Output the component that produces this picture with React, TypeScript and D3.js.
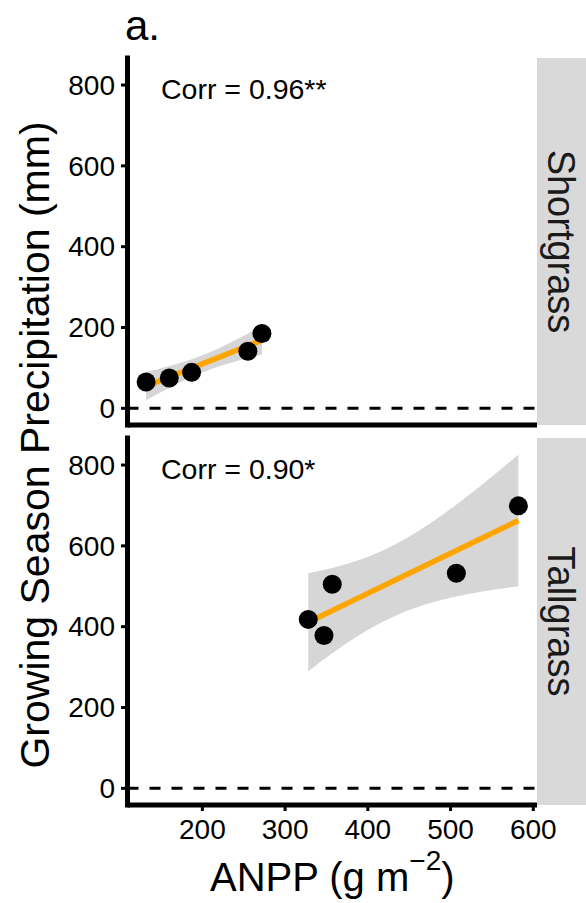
import React from "react";
import * as d3 from "d3";

// Sites shown as facets, one panel per row
const sites = ["Shortgrass", "Tallgrass"];

// ANPP (g m^-2) and growing season precipitation (mm) per year
const shortgrassAnpp = [132, 160, 187, 255, 272];
const shortgrassPpt = [65, 75, 89, 141, 185];
const tallgrassAnpp = [328, 347, 357, 507, 582];
const tallgrassPpt = [418, 378, 505, 532, 699];

const corrLabels = ["Corr = 0.96**", "Corr = 0.90*"];

const xTicks = [200, 300, 400, 500, 600];
const yTicks = [0, 200, 400, 600, 800];

// two-sided 95% t critical value with n - 2 = 3 degrees of freedom
const T_CRIT = 3.182446;

const FONT = "'Liberation Sans', Arial, Helvetica, sans-serif";

function linearFit(xs: number[], ys: number[]) {
  const n = xs.length;
  const mx = d3.mean(xs) as number;
  const my = d3.mean(ys) as number;
  let sxx = 0;
  let sxy = 0;
  xs.forEach((x, i) => {
    sxx += (x - mx) * (x - mx);
    sxy += (x - mx) * (ys[i] - my);
  });
  const slope = sxy / sxx;
  const intercept = my - slope * mx;
  let sse = 0;
  xs.forEach((x, i) => {
    const r = ys[i] - (intercept + slope * x);
    sse += r * r;
  });
  const s = Math.sqrt(sse / (n - 2));
  const [x0, x1] = d3.extent(xs) as [number, number];
  return d3.range(80).map((k) => {
    const x = x0 + ((x1 - x0) * k) / 79;
    const fit = intercept + slope * x;
    const se = s * Math.sqrt(1 / n + ((x - mx) * (x - mx)) / sxx);
    return { x, fit, lo: fit - T_CRIT * se, hi: fit + T_CRIT * se };
  });
}

const groups = [
  { site: sites[0], xs: shortgrassAnpp, ys: shortgrassPpt, label: corrLabels[0] },
  { site: sites[1], xs: tallgrassAnpp, ys: tallgrassPpt, label: corrLabels[1] },
].map((g) => ({ ...g, band: linearFit(g.xs, g.ys) }));

// layout
const W = 586;
const H = 903;
const panelLeft = 127.5;
const panelRight = 537;
const panels = [
  { top: 58, bottom: 425 },
  { top: 438, bottom: 805 },
];
const stripRight = 586;

// shared scales (fixed across facets), with 5% expansion
const allX = [...shortgrassAnpp, ...tallgrassAnpp];
const [xMin, xMax] = d3.extent(allX) as [number, number];
const xPad = (xMax - xMin) * 0.05;
const x = d3.scaleLinear().domain([xMin - xPad, xMax + xPad]).range([panelLeft, panelRight]);

const yLo = Math.min(0, ...groups.flatMap((g) => g.band.map((b) => b.lo)), ...groups.flatMap((g) => g.ys));
const yHi = Math.max(...groups.flatMap((g) => g.band.map((b) => b.hi)), ...groups.flatMap((g) => g.ys));
const yPad = (yHi - yLo) * 0.05;
const yDomain: [number, number] = [yLo - yPad, yHi + yPad];

export default function App() {
  return (
    <svg
      width={W}
      height={H}
      style={{ position: "absolute", left: 0, top: 0, background: "#fff" }}
      fontFamily={FONT}
    >
      <text x={125} y={40} fontSize={42} fill="#000">
        a.
      </text>

      {groups.map((g, i) => {
        const p = panels[i];
        const y = d3.scaleLinear().domain(yDomain).range([p.bottom, p.top]);
        const area = d3
          .area<{ x: number; lo: number; hi: number }>()
          .x((d) => x(d.x))
          .y0((d) => y(d.lo))
          .y1((d) => y(d.hi));
        const line = d3
          .line<{ x: number; fit: number }>()
          .x((d) => x(d.x))
          .y((d) => y(d.fit));
        const stripCx = (panelRight + stripRight) / 2;
        const stripCy = (p.top + p.bottom) / 2;
        return (
          <g key={g.site}>
            {/* strip */}
            <rect x={panelRight} y={p.top} width={stripRight - panelRight} height={p.bottom - p.top} fill="#D9D9D9" />
            <text
              transform={`translate(${stripCx},${stripCy}) rotate(90)`}
              textAnchor="middle"
              dy="0.35em"
              fontSize={38}
              fill="#1A1A1A"
            >
              {g.site}
            </text>

            {/* zero reference */}
            <line
              x1={panelLeft}
              x2={panelRight}
              y1={y(0)}
              y2={y(0)}
              stroke="#000"
              strokeWidth={3}
              strokeDasharray="11,11"
            />

            {/* fitted line with 95% confidence band */}
            <path d={area(g.band) || ""} fill="#D6D6D6" />
            <path d={line(g.band) || ""} fill="none" stroke="#FFA500" strokeWidth={5.5} />

            {g.xs.map((xv, k) => (
              <circle key={k} cx={x(xv)} cy={y(g.ys[k])} r={9.5} fill="#000" />
            ))}

            <text x={x(150)} y={y(790)} dy="0.35em" fontSize={28.5} fill="#000">
              {g.label}
            </text>

            {/* y axis */}
            {yTicks.map((t) => (
              <g key={t}>
                <line x1={121} x2={panelLeft} y1={y(t)} y2={y(t)} stroke="#000" strokeWidth={3} />
                <text x={115} y={y(t)} dy="0.35em" textAnchor="end" fontSize={28} fill="#000">
                  {t}
                </text>
              </g>
            ))}
            <line
              x1={panelLeft}
              x2={panelLeft}
              y1={p.top}
              y2={p.bottom}
              stroke="#000"
              strokeWidth={5}
              strokeLinecap="square"
            />
            <line
              x1={panelLeft}
              x2={panelRight}
              y1={p.bottom}
              y2={p.bottom}
              stroke="#000"
              strokeWidth={5}
              strokeLinecap="butt"
            />
          </g>
        );
      })}

      {/* x axis ticks (bottom panel only) */}
      {xTicks.map((t) => (
        <g key={t}>
          <line x1={x(t)} x2={x(t)} y1={panels[1].bottom} y2={panels[1].bottom + 6} stroke="#000" strokeWidth={3} />
          <text x={x(t)} y={839} textAnchor="middle" fontSize={28} fill="#000">
            {t}
          </text>
        </g>
      ))}

      {/* axis titles */}
      <text x={(panelLeft + panelRight) / 2} y={891} textAnchor="middle" fontSize={40} fill="#000">
        ANPP (g m
        <tspan dy={-21} fontSize={28}>
          −2
        </tspan>
        <tspan dy={21}>)</tspan>
      </text>
      <text
        transform={`translate(49,445) rotate(-90)`}
        textAnchor="middle"
        fontSize={41}
        fill="#000"
      >
        Growing Season Precipitation (mm)
      </text>
    </svg>
  );
}
